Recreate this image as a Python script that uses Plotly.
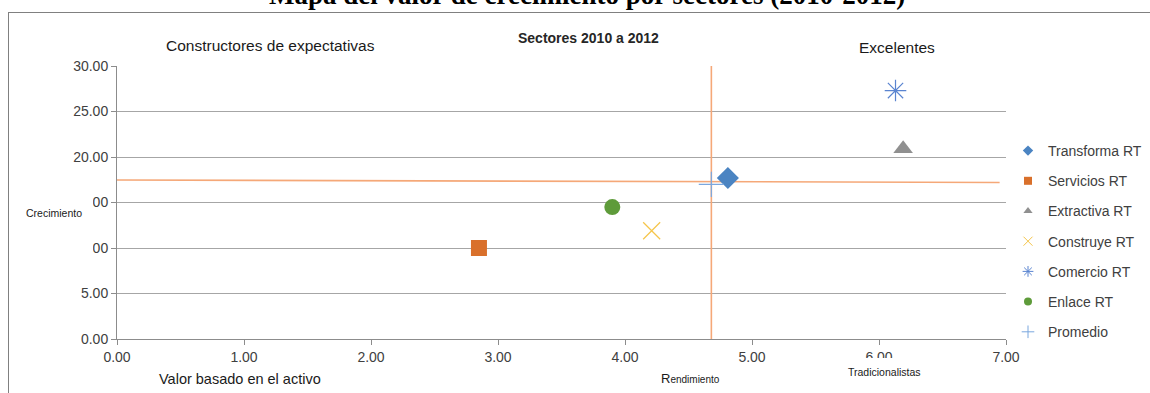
import plotly.graph_objects as go

# ---- data ----
series_names = ["Transforma RT", "Servicios RT", "Extractiva RT", "Construye RT",
                "Comercio RT", "Enlace RT", "Promedio"]
x_vals = [4.81, 2.85, 6.19, 4.21, 6.13, 3.90, 4.68]
y_vals = [17.7, 10.0, 20.9, 11.9, 27.3, 14.5, 17.0]
colors = ["#4B84C2", "#D9702B", "#909090", "#F5C54A", "#5A84D0", "#5E9B3A", "#7BA7DE"]
symbols = ["diamond", "square", "triangle-up", "x-thin", "asterisk", "circle", "cross-thin"]
sizes = [17, 16, 17, 17, 18, 16, 18]

avg_h_x = [0.0, 6.95]
avg_h_y = [17.47, 17.2]
avg_v_x = [4.68, 4.68]
avg_v_y = [0.0, 30.4]

x_ticks = [0, 1, 2, 3, 4, 5, 6, 7]
y_ticks = [0, 5, 10, 15, 20, 25, 30]

# ---- layout geometry (pixels) ----
W, H = 1150, 393
L, R, T, B = 117, 144, 66, 54
PW, PH = W - L - R, H - T - B


def px(X):
    return (X - L) / PW


def py(Y):
    return (H - B - Y) / PH


fig = go.Figure()

# reference lines (average)
fig.add_trace(go.Scatter(x=avg_h_x, y=avg_h_y, mode="lines",
                         line=dict(color="#F5A878", width=1.6), showlegend=False,
                         hoverinfo="skip"))
fig.add_trace(go.Scatter(x=avg_v_x, y=avg_v_y, mode="lines",
                         line=dict(color="#F5A878", width=1.6), showlegend=False,
                         hoverinfo="skip"))

thin = {"x-thin", "asterisk", "cross-thin"}
for i, name in enumerate(series_names):
    mk = dict(symbol=symbols[i], size=sizes[i], color=colors[i])
    if symbols[i] in thin:
        mk["line"] = dict(color=colors[i], width=1.2)
    else:
        mk["line"] = dict(width=0)
    fig.add_trace(go.Scatter(x=[x_vals[i]], y=[y_vals[i]], mode="markers",
                             marker=mk, name=name, showlegend=False))
    # small legend glyph
    lmk = dict(symbol=symbols[i], size=8 if symbols[i] not in thin else 9, color=colors[i])
    if symbols[i] in thin:
        lmk["line"] = dict(color=colors[i], width=1)
    fig.add_trace(go.Scatter(x=[None], y=[None], mode="markers", marker=lmk,
                             name=name, legendgroup=name, showlegend=True))

# white cover boxes (text boxes from original)
covers = [(138, 30, 407, 70), (838, 30, 955, 70), (20, 190, 93, 258), (838, 358, 930, 386)]
shapes = []
for (x0, y0, x1, y1) in covers:
    shapes.append(dict(type="rect", xref="paper", yref="paper", x0=px(x0), x1=px(x1),
                       y0=py(y1), y1=py(y0), fillcolor="white", line=dict(width=0),
                       layer="above"))
# outer frame lines
shapes.append(dict(type="line", xref="paper", yref="paper", x0=px(8), x1=px(1160),
                   y0=py(12.5), y1=py(12.5), line=dict(color="#808080", width=1)))
shapes.append(dict(type="line", xref="paper", yref="paper", x0=px(8.5), x1=px(8.5),
                   y0=py(12.5), y1=py(400), line=dict(color="#808080", width=1)))

AR = "Liberation Sans, Arial, sans-serif"
annotations = [
    dict(text="<b>Mapa del valor de crecimiento por sectores (2010-2012)</b>",
         x=px(587), y=py(-5), font=dict(family="Liberation Serif, Times New Roman, serif",
                                          size=27, color="black")),
    dict(text="Constructores de expectativas", x=px(270), y=py(45),
         font=dict(family=AR, size=15.5, color="#1a1a1a")),
    dict(text="<b>Sectores 2010 a 2012</b>", x=px(588), y=py(38),
         font=dict(family=AR, size=14, color="#262626")),
    dict(text="Excelentes", x=px(897), y=py(47),
         font=dict(family=AR, size=15.5, color="#1a1a1a")),
    dict(text="Crecimiento", x=px(54), y=py(213),
         font=dict(family=AR, size=10.5, color="#1a1a1a")),
    dict(text="Valor basado en el activo", x=px(240), y=py(379),
         font=dict(family=AR, size=14.5, color="#1a1a1a")),
    dict(text="<span style='font-size:13px'>R</span>endimiento", x=px(690), y=py(378),
         font=dict(family=AR, size=10, color="#1a1a1a")),
    dict(text="Tradicionalistas", x=px(884), y=py(372),
         font=dict(family=AR, size=10.5, color="#1a1a1a")),
]
for a in annotations:
    a.update(xref="paper", yref="paper", showarrow=False, xanchor="center",
             yanchor="middle")

fig.update_layout(
    width=W, height=H, margin=dict(l=L, r=R, t=T, b=B, pad=0, autoexpand=False),
    paper_bgcolor="white", plot_bgcolor="white",
    shapes=shapes, annotations=annotations,
    xaxis=dict(range=[0, 7], tickvals=x_ticks, ticktext=[f"{v:.2f}" for v in x_ticks],
               showgrid=False, zeroline=False, showline=True, linecolor="#8C8C8C",
               ticks="outside", ticklen=5, tickcolor="#8C8C8C",
               tickfont=dict(family=AR, size=14, color="#404040")),
    yaxis=dict(range=[0, 30], tickvals=y_ticks, ticktext=[f"{v:.2f}" for v in y_ticks],
               showgrid=True, gridcolor="#A6A6A6", gridwidth=1, zeroline=False,
               showline=True, linecolor="#8C8C8C", ticks="outside", ticklen=5,
               tickcolor="#8C8C8C", tickfont=dict(family=AR, size=14, color="#404040")),
    legend=dict(x=px(1008), y=py(135), xanchor="left", yanchor="top",
                font=dict(family=AR, size=14, color="#404040"), tracegroupgap=9,
                bgcolor="rgba(0,0,0,0)"),
    showlegend=True,
)

fig.write_html("out.html")
